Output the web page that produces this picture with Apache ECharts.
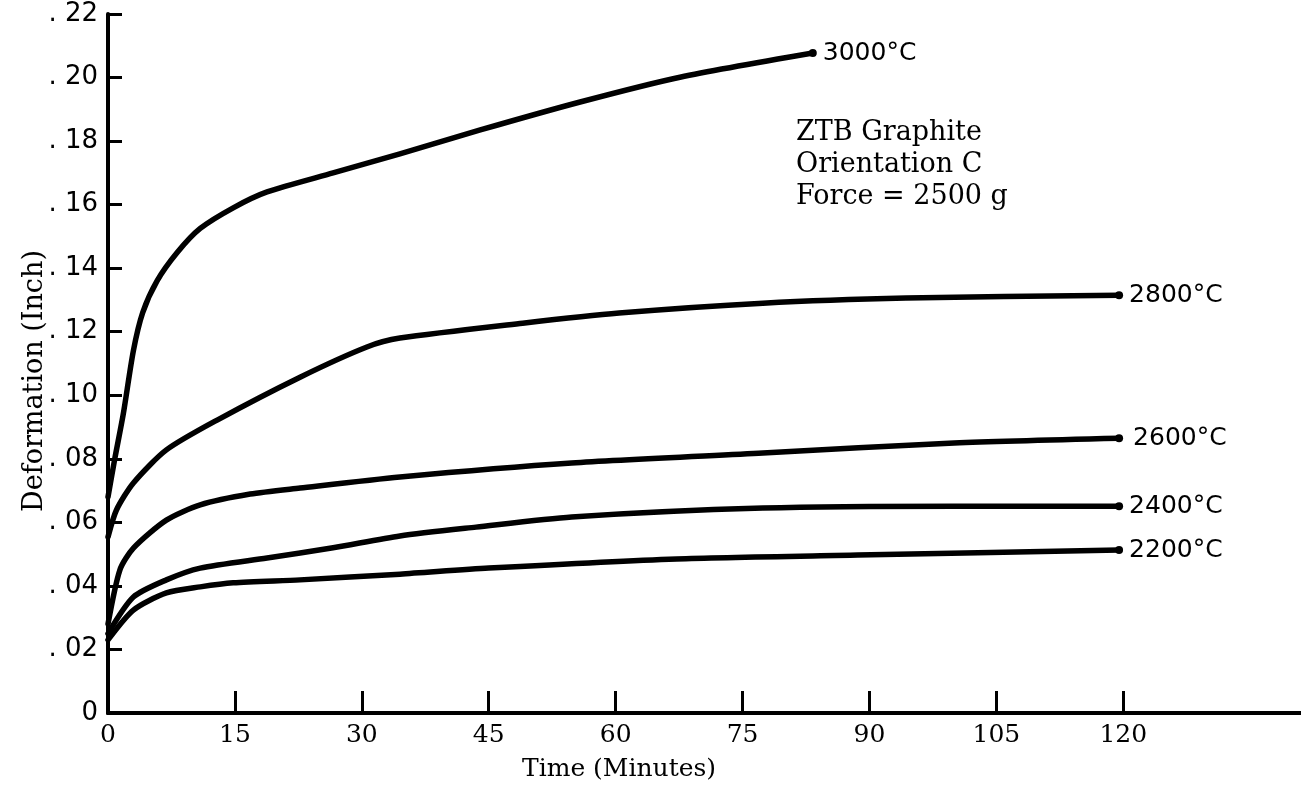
<!DOCTYPE html>
<html>
<head>
<meta charset="utf-8">
<title>ZTB Graphite deformation</title>
<script src="https://cdn.jsdelivr.net/npm/echarts@6/dist/echarts.min.js"></script>
<style>
  html, body { margin: 0; padding: 0; background: #fff; }
  #chart { width: 1301px; height: 790px; }
</style>
</head>
<body>
<div id="chart"></div>
<script>
// values: time in minutes, deformation in inches
const xTicks = [0, 15, 30, 45, 60, 75, 90, 105, 120]

const t3000 = [0, 0.8, 1.8, 3, 4.1, 5.8, 8.2, 10.9, 14.8, 18.8, 26.6, 34.5, 44, 55.8, 67.6, 83.3]
const v3000 = [0.068, 0.080, 0.094, 0.114, 0.126, 0.136, 0.145, 0.1525, 0.159, 0.164, 0.170, 0.176, 0.1835, 0.1923, 0.2001, 0.2077]

const t2800 = [0, 1, 3, 6.9, 12.9, 22.7, 30.6, 34.5, 49, 60.4, 77.4, 94.3, 119.5]
const v2800 = [0.0554, 0.0639, 0.0724, 0.0828, 0.0922, 0.1057, 0.1152, 0.118, 0.1227, 0.1259, 0.129, 0.1306, 0.1315]

const t2600 = [0, 1.4, 3, 6.9, 10.9, 16.8, 22.7, 34.5, 54.8, 77.4, 100, 119.5]
const v2600 = [0.028, 0.045, 0.0519, 0.0607, 0.0655, 0.0689, 0.0708, 0.0743, 0.0787, 0.0818, 0.085, 0.0865]

const t2400 = [0, 3, 6.9, 10.9, 18.8, 26.6, 34.5, 43.5, 54.8, 77.4, 100, 119.5]
const v2400 = [0.025, 0.0365, 0.0419, 0.0456, 0.0488, 0.052, 0.0557, 0.0585, 0.0617, 0.0645, 0.0651, 0.0651]

const t2200 = [0, 3, 6.9, 10.9, 14.8, 22.7, 34.5, 45, 67.2, 88.6, 119.5]
const v2200 = [0.023, 0.0324, 0.0378, 0.0397, 0.041, 0.0419, 0.0437, 0.0456, 0.0485, 0.0497, 0.0513]

const curveNames = ['3000°C', '2800°C', '2600°C', '2400°C', '2200°C']

const serif = 'DejaVu Serif'
const sans = 'DejaVu Sans'

function zip(ts, vs) {
  return ts.map((t, i) => [t, vs[i]])
}

function curve(name, ts, vs, labelOffset) {
  const last = ts.length - 1
  return {
    name: name,
    type: 'line',
    data: zip(ts, vs),
    smooth: 0.25,
    showSymbol: true,
    showAllSymbol: true,
    symbol: 'circle',
    symbolSize: (val, p) => (p.dataIndex === last ? 8 : 0),
    itemStyle: { color: '#000' },
    lineStyle: { color: '#000', width: 5.5, cap: 'round', join: 'round' },
    endLabel: {
      show: true,
      formatter: name,
      color: '#000',
      fontFamily: sans,
      fontSize: 25,
      distance: 10,
      offset: labelOffset || [0, 0]
    },
    emphasis: { disabled: true },
    animation: false
  }
}

const chart = echarts.init(document.getElementById('chart'))

chart.setOption({
  backgroundColor: '#fff',
  grid: { left: 108, right: 0, top: 14, bottom: 77 },
  xAxis: [
    {
      type: 'value',
      min: 0,
      max: 141,
      interval: 15,
      axisLine: { show: true, onZero: false, lineStyle: { color: '#000', width: 4 } },
      axisTick: {
        show: true,
        inside: true,
        length: 22,
        customValues: xTicks,
        lineStyle: { color: '#000', width: 3 }
      },
      axisLabel: {
        customValues: xTicks,
        color: '#000',
        fontFamily: serif,
        fontSize: 25,
        margin: 10
      },
      splitLine: { show: false }
    },
    {
      // top frame line
      type: 'value',
      position: 'top',
      min: 0,
      max: 141,
      axisLine: { show: true, lineStyle: { color: '#000', width: 4 } },
      axisTick: { show: false },
      axisLabel: { show: false },
      splitLine: { show: false }
    }
  ],
  yAxis: {
    type: 'value',
    min: 0,
    max: 0.22,
    interval: 0.02,
    axisLine: { show: true, lineStyle: { color: '#000', width: 4 } },
    axisTick: { show: true, inside: true, length: 14, lineStyle: { color: '#000', width: 3 } },
    axisLabel: {
      color: '#000',
      fontFamily: sans,
      fontSize: 26,
      margin: 10,
      formatter: v => {
        if (v === 0) return '0'
        return '. ' + Math.round(v * 100).toString().padStart(2, '0')
      }
    },
    splitLine: { show: false }
  },
  graphic: [
    {
      type: 'text',
      x: 35,
      y: 381,
      rotation: Math.PI / 2,
      style: {
        text: 'Deformation (Inch)',
        fill: '#000',
        font: '27px "DejaVu Serif"',
        align: 'center',
        verticalAlign: 'middle'
      }
    },
    {
      type: 'text',
      left: 522,
      top: 757,
      style: { text: 'Time (Minutes)', fill: '#000', font: '25px "DejaVu Serif"' }
    },
    {
      type: 'text',
      left: 796,
      top: 117,
      style: {
        text: 'ZTB Graphite\nOrientation C\nForce = 2500 g',
        fill: '#000',
        font: '27px "DejaVu Serif"',
        lineHeight: 32
      }
    }
  ],
  series: [
    curve(curveNames[0], t3000, v3000),
    curve(curveNames[1], t2800, v2800),
    curve(curveNames[2], t2600, v2600, [4, 0]),
    curve(curveNames[3], t2400, v2400),
    curve(curveNames[4], t2200, v2200)
  ]
})
</script>
</body>
</html>
